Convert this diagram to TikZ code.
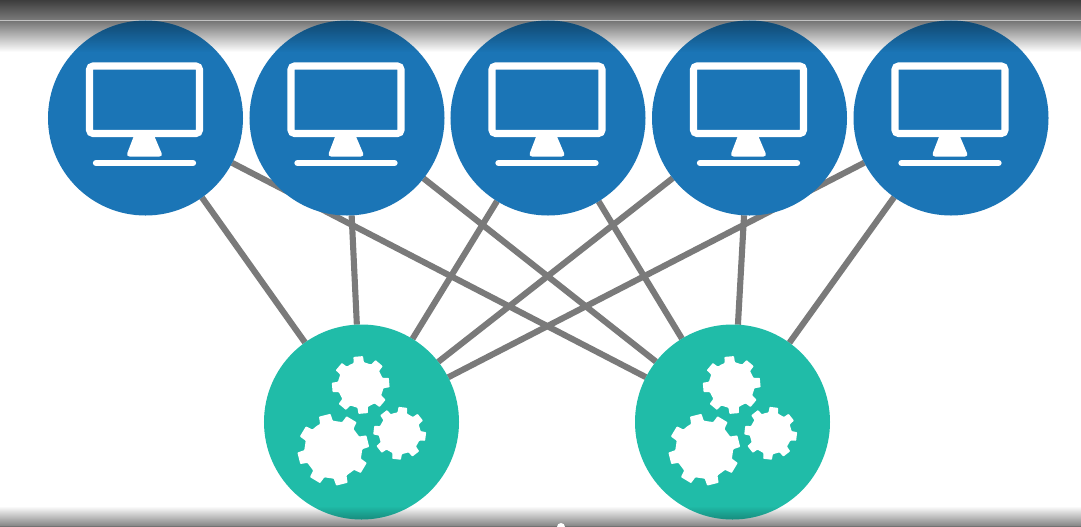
\documentclass[tikz,border=0pt]{standalone}
\usetikzlibrary{backgrounds,fadings}
\definecolor{pcblue}{HTML}{1B75B6}
\definecolor{srvteal}{HTML}{20BCA8}
\definecolor{linkgray}{HTML}{7A7A7A}
\tikzfading[name=fadetop, top color=transparent!62, bottom color=transparent!100]
\tikzfading[name=fadebottom, top color=transparent!100, bottom color=transparent!62]
\newcommand\cogwheel[6]{%
  \pgfmathsetmacro\cogstep{360/#3}%
  \fill[white,shift={(#1,#2)},rounded corners=0.6pt]
    ({#6-0.5*\cogstep}:#4)
    \foreach \k in {1,...,#3}{
      -- ({#6+(\k-1)*\cogstep-0.29*\cogstep}:#4)
      -- ({#6+(\k-1)*\cogstep-0.21*\cogstep}:#5)
      -- ({#6+(\k-1)*\cogstep+0.21*\cogstep}:#5)
      -- ({#6+(\k-1)*\cogstep+0.29*\cogstep}:#4)
    } -- cycle;
}
\tikzset{
  x=0.03cm,y=-0.03cm,
  pcnode/.style={circle,fill=pcblue,minimum size=5.85cm,inner sep=0pt,outer sep=0pt},
  srvnode/.style={circle,fill=srvteal,minimum size=5.85cm,inner sep=0pt,outer sep=0pt},
  linkline/.style={draw=linkgray,line width=5.2pt},
  monitor/.pic={
    \draw[white,line width=6pt,rounded corners=3pt] (-56,-52) rectangle (54,15.5);
    \fill[white,rounded corners=3pt] (-10.5,15) -- (7.5,15) -- (17.5,38.5) -- (-19.5,38.5) -- cycle;
    \draw[white,line width=5.4pt,line cap=round] (-49.5,45) -- (47.5,45);
  },
  cogs/.pic={
    \cogwheel{-0.8}{-37}{8}{23}{29}{-95}
    \cogwheel{38.2}{11.3}{8}{21}{26.5}{-83}
    \cogwheel{-28.2}{27.7}{8}{29}{36}{-104}
  },
}
\begin{document}
\begin{tikzpicture}
\useasboundingbox (0,0) rectangle (1081,527);
\node[pcnode] (pc1) at (145.5,118) {};
\node[pcnode] (pc2) at (347,118) {};
\node[pcnode] (pc3) at (548,118) {};
\node[pcnode] (pc4) at (749.5,118) {};
\node[pcnode] (pc5) at (951,118) {};
\node[srvnode] (srv1) at (361.5,422) {};
\node[srvnode] (srv2) at (732.5,422) {};
\begin{scope}[on background layer]
  \fill[white] (0,0) rectangle (1081,527);
  \shade[top color=black!76,bottom color=black!52] (0,0) rectangle (1081,20);
  \fill[black!24] (0,20) rectangle (1081,21);
  \shade[top color=black!54,bottom color=white] (0,21) rectangle (1081,52);
  \shade[top color=white,bottom color=black!48] (0,506) rectangle (1081,526);
  \fill[black!55] (0,526) rectangle (1081,527);
  \fill[white] (561,527) circle (4);
  \foreach \a in {pc1,pc2,pc3,pc4,pc5}
    \foreach \b in {srv1,srv2}
      \path[linkline] (\a) -- (\b);
\end{scope}
\foreach \n in {pc1,pc2,pc3,pc4,pc5}{
  \pic at (\n) {monitor};
  \begin{scope}
    \clip (\n) circle (97.5);
    \fill[black,path fading=fadetop] (0,21) rectangle (1081,52);
  \end{scope}
}
\foreach \n in {srv1,srv2}{
  \pic at (\n) {cogs};
  \begin{scope}
    \clip (\n) circle (97.5);
    \fill[black,path fading=fadebottom] (0,506) rectangle (1081,526);
  \end{scope}
}
\end{tikzpicture}
\end{document}
